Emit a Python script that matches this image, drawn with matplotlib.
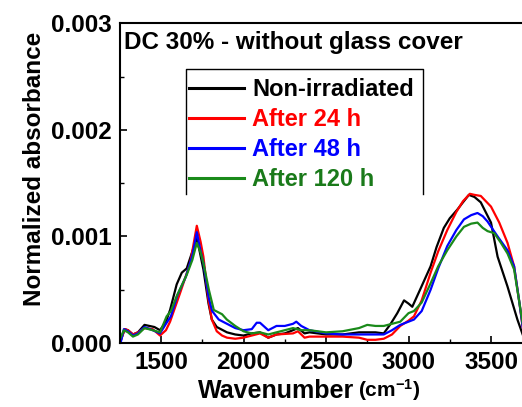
import matplotlib
matplotlib.use("Agg")
import matplotlib.pyplot as plt
import numpy as np
from matplotlib.ticker import MultipleLocator, FormatStrFormatter

plt.rcParams['font.family'] = ['Liberation Sans', 'DejaVu Sans']
plt.rcParams['font.weight'] = 'bold'
plt.rcParams['mathtext.fontset'] = 'custom'
plt.rcParams['mathtext.rm'] = 'Liberation Sans:bold'
plt.rcParams['mathtext.bf'] = 'Liberation Sans:bold'
plt.rcParams['mathtext.it'] = 'Liberation Sans:bold'

# Data (absorbance in units of 1e-3)
wn_black = [1255, 1280, 1300, 1330, 1360, 1400, 1430, 1460, 1494, 1530, 1555, 1595, 1626, 1656, 1686, 1717,
            1757, 1788, 1808, 1838, 1900, 1950, 2000, 2050, 2100, 2150, 2200, 2250, 2300, 2330, 2370, 2400,
            2500, 2600, 2700, 2800, 2850, 2892, 2932, 2973, 3000, 3023, 3070, 3134, 3170, 3214, 3250, 3295,
            3330, 3366, 3400, 3438, 3500, 3540, 3600, 3660, 3692]
ab_black = [0.02, 0.13, 0.12, 0.08, 0.10, 0.17, 0.16, 0.15, 0.12, 0.20, 0.31, 0.55, 0.66, 0.70, 0.84, 0.99,
            0.69, 0.37, 0.22, 0.15, 0.10, 0.08, 0.07, 0.09, 0.10, 0.05, 0.08, 0.09, 0.12, 0.14, 0.09, 0.10,
            0.08, 0.08, 0.10, 0.10, 0.09, 0.18, 0.28, 0.40, 0.37, 0.34, 0.50, 0.72, 0.90, 1.08, 1.17, 1.25,
            1.32, 1.39, 1.37, 1.32, 1.13, 0.81, 0.53, 0.22, 0.08]

wn_red = [1255, 1280, 1300, 1330, 1360, 1400, 1450, 1494, 1530, 1555, 1616, 1677, 1717, 1740, 1757, 1788,
          1808, 1838, 1870, 1900, 1950, 2000, 2050, 2100, 2150, 2200, 2300, 2330, 2370, 2400, 2500, 2600,
          2700, 2750, 2800, 2850, 2900, 2950, 3000, 3033, 3080, 3134, 3180, 3235, 3290, 3330, 3372, 3400,
          3438, 3500, 3550, 3600, 3640, 3672, 3692]
ab_red = [0.02, 0.13, 0.12, 0.08, 0.10, 0.14, 0.13, 0.07, 0.12, 0.20, 0.47, 0.75, 1.10, 0.95, 0.81, 0.40,
          0.22, 0.11, 0.07, 0.05, 0.04, 0.05, 0.07, 0.09, 0.05, 0.08, 0.09, 0.11, 0.05, 0.06, 0.06, 0.06,
          0.05, 0.03, 0.03, 0.04, 0.08, 0.16, 0.21, 0.25, 0.40, 0.66, 0.86, 1.06, 1.23, 1.33, 1.40, 1.39,
          1.38, 1.28, 1.13, 0.94, 0.72, 0.38, 0.15]

wn_blue = [1255, 1275, 1300, 1330, 1360, 1400, 1450, 1494, 1530, 1560, 1600, 1650, 1690, 1717, 1740, 1757,
           1790, 1810, 1850, 1900, 1950, 2000, 2050, 2080, 2100, 2150, 2200, 2250, 2300, 2320, 2350, 2400,
           2500, 2600, 2700, 2800, 2850, 2900, 2950, 3000, 3033, 3080, 3134, 3180, 3235, 3290, 3336, 3380,
           3418, 3450, 3479, 3540, 3600, 3640, 3672, 3692]
ab_blue = [0.00, 0.13, 0.11, 0.07, 0.09, 0.15, 0.12, 0.09, 0.18, 0.25, 0.45, 0.62, 0.82, 1.04, 0.86, 0.75,
           0.42, 0.30, 0.22, 0.18, 0.14, 0.12, 0.13, 0.19, 0.19, 0.12, 0.16, 0.16, 0.18, 0.20, 0.16, 0.12,
           0.09, 0.08, 0.08, 0.08, 0.08, 0.12, 0.17, 0.20, 0.22, 0.30, 0.50, 0.70, 0.91, 1.06, 1.16, 1.20,
           1.22, 1.19, 1.14, 1.00, 0.87, 0.72, 0.38, 0.15]

wn_green = [1255, 1275, 1300, 1330, 1360, 1400, 1450, 1494, 1534, 1560, 1595, 1656, 1690, 1717, 1740, 1757,
            1790, 1820, 1870, 1899, 1950, 2000, 2050, 2100, 2150, 2200, 2250, 2300, 2350, 2400, 2500, 2600,
            2700, 2750, 2800, 2850, 2900, 2950, 3000, 3033, 3080, 3134, 3180, 3235, 3290, 3336, 3380, 3418,
            3450, 3479, 3520, 3560, 3600, 3640, 3672, 3692]
ab_green = [0.05, 0.12, 0.10, 0.06, 0.08, 0.14, 0.12, 0.10, 0.25, 0.30, 0.44, 0.64, 0.78, 0.94, 0.85, 0.75,
            0.50, 0.31, 0.27, 0.22, 0.16, 0.11, 0.09, 0.10, 0.08, 0.10, 0.12, 0.14, 0.12, 0.12, 0.10, 0.11,
            0.14, 0.17, 0.16, 0.16, 0.18, 0.20, 0.28, 0.30, 0.38, 0.56, 0.72, 0.87, 1.00, 1.09, 1.12, 1.13,
            1.08, 1.05, 1.03, 0.94, 0.84, 0.69, 0.38, 0.18]

labels = ["Non-irradiated", "After 24 h", "After 48 h", "After 120 h"]
colors = ["#000000", "#ff0000", "#0000ff", "#1a8a1a"]
text_colors = ["#000000", "#ff0000", "#0000ff", "#1a7a1a"]

fig = plt.figure(figsize=(5.22, 4.07), dpi=100)
ax = fig.add_axes([119.75 / 522, 1 - 343 / 407, 412.5 / 522, 319.7 / 407])

series = [(wn_black, ab_black), (wn_red, ab_red), (wn_blue, ab_blue), (wn_green, ab_green)]
for (x, y), lab, c in zip(series, labels, colors):
    ax.plot(x, np.array(y) * 1e-3, color=c, lw=1.6, label=lab)

ax.set_xlim(1250, 3750)
ax.set_ylim(0, 0.003)
ax.xaxis.set_major_locator(MultipleLocator(500))
ax.xaxis.set_minor_locator(MultipleLocator(250))
ax.yaxis.set_major_locator(MultipleLocator(0.001))
ax.yaxis.set_minor_locator(MultipleLocator(0.0005))
ax.yaxis.set_major_formatter(FormatStrFormatter('%.3f'))
ax.tick_params(which='major', direction='in', length=5, width=1.2, labelsize=17.5, pad=6)
ax.tick_params(which='minor', direction='in', length=3, width=1.0)
for s in ax.spines.values():
    s.set_linewidth(1.5)
for t in ax.get_xticklabels() + ax.get_yticklabels():
    t.set_fontweight('bold')

ax.set_xlabel("Wavenumber", fontsize=18, fontweight='bold')
ax.set_ylabel("Normalized absorbance", fontsize=17.5, fontweight='bold')
ax.xaxis.set_label_coords(0.378, -0.113)
ax.yaxis.set_label_coords(-0.178, 0.544)
ax.annotate(r"(cm$^{-1}$)", xy=(1, 0), xycoords=ax.xaxis.label, xytext=(3, 0),
            textcoords='offset points', ha='left', va='bottom', fontsize=15, fontweight='bold')

ax.text(0.010, 0.975, "DC 30% - without glass cover", transform=ax.transAxes,
        fontsize=17.5, fontweight='bold', va='top', ha='left')

leg = ax.legend(loc='upper left', bbox_to_anchor=(0.163, 0.835), frameon=False, fontsize=17,
                handlelength=2.3, handletextpad=0.35, labelspacing=0.29, borderaxespad=0, borderpad=0.1)
for t, c in zip(leg.get_texts(), text_colors):
    t.set_color(c)
    t.set_fontweight('bold')
for h in leg.get_lines():
    h.set_linewidth(2.2)

# legend frame (open at the bottom)
fx0, fx1, fy0, fy1 = 0.16, 0.735, 0.466, 0.857
ax.plot([fx0, fx0, fx1, fx1], [fy0, fy1, fy1, fy0], transform=ax.transAxes, color='black', lw=1.0,
        clip_on=False)

fig.savefig("out.png", dpi=100)
